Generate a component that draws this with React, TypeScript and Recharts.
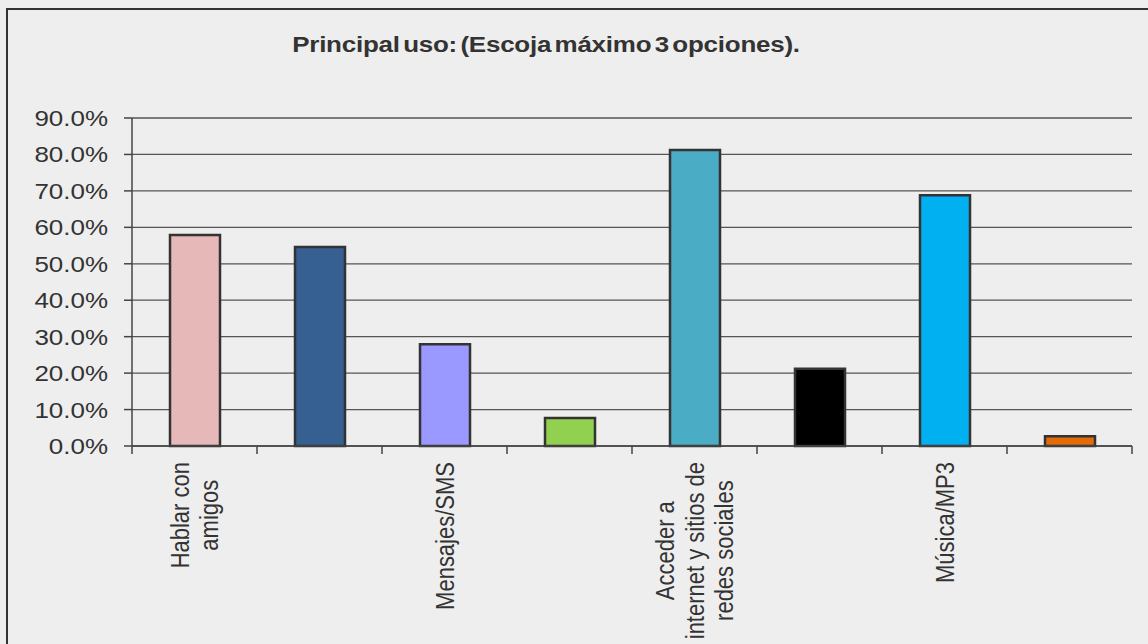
import { Bar, BarChart, CartesianGrid, Cell, XAxis, YAxis } from "recharts";

const categories = [
  "Hablar con amigos",
  "Llamadas",
  "Mensajes/SMS",
  "Juegos",
  "Acceder a internet y sitios de redes sociales",
  "Fotos/Video",
  "Música/MP3",
  "Otros",
];
// wrapped lines for the drawn labels (odd categories are skipped on the axis)
const labelLines = [
  ["Hablar con", "amigos"],
  [],
  ["Mensajes/SMS"],
  [],
  ["Acceder a", "internet y sitios de", "redes sociales"],
  [],
  ["Música/MP3"],
  [],
];
const shares = [0.579, 0.546, 0.279, 0.077, 0.812, 0.212, 0.688, 0.027];
const barColors = [
  "#E6B8B7",
  "#366092",
  "#9999FF",
  "#92D050",
  "#4BACC6",
  "#000000",
  "#00B0F0",
  "#E36C09",
];
const yTicks = [0, 0.1, 0.2, 0.3, 0.4, 0.5, 0.6, 0.7, 0.8, 0.9];

const data = categories.map((name, i) => ({ name, value: shares[i], color: barColors[i] }));

const WIDTH = 1148;
const HEIGHT = 644;
const MARGIN = { top: 118, right: 16, left: 0, bottom: 0 };
const Y_AXIS_WIDTH = 132;
const X_AXIS_HEIGHT = 198;
const PLOT_WIDTH = WIDTH - MARGIN.left - MARGIN.right - Y_AXIS_WIDTH;
const BAND = PLOT_WIDTH / categories.length;

const FONT = "'Liberation Sans', Arial, sans-serif";
const FONT_SIZE = 22;
// glyphs are drawn a bit wider than tall
const STRETCH = 1.18;
const LINE_GAP = 30;

let measureCtx: CanvasRenderingContext2D | null = null;
function textWidth(s: string) {
  if (!measureCtx) {
    measureCtx = document.createElement("canvas").getContext("2d");
  }
  if (!measureCtx) return s.length * FONT_SIZE * 0.5;
  measureCtx.font = `${FONT_SIZE}px ${FONT}`;
  return measureCtx.measureText(s).width;
}

function CategoryTick(props: any) {
  const { x, y, index } = props;
  const lines = labelLines[index] || [];
  const longest = Math.max(0, ...lines.map(textWidth));
  const offset = 8 + longest / 2;
  const left = x - BAND / 2;
  const right = x + BAND / 2;
  return (
    <g>
      <line x1={left} y1={y - 8} x2={left} y2={y} stroke="#444" strokeWidth={1.5} />
      {index === categories.length - 1 && (
        <line x1={right} y1={y - 8} x2={right} y2={y} stroke="#444" strokeWidth={1.5} />
      )}
      <g transform={`translate(${x},${y}) rotate(-90) scale(1,${STRETCH})`}>
        {lines.map((line, i) => (
          <text
            key={line}
            x={-offset}
            y={((i - (lines.length - 1) / 2) * LINE_GAP + 9) / STRETCH}
            textAnchor="middle"
            fontFamily={FONT}
            fontSize={FONT_SIZE}
            fill="#333"
          >
            {line}
          </text>
        ))}
      </g>
    </g>
  );
}

function PercentTick(props: any) {
  const { x, y, payload } = props;
  return (
    <g transform={`translate(${x},${y}) scale(${STRETCH},1)`}>
      <text x={0} y={0} dy={8} textAnchor="end" fontFamily={FONT} fontSize={FONT_SIZE} fill="#333">
        {`${(payload.value * 100).toFixed(1)}%`}
      </text>
    </g>
  );
}

export default function App() {
  return (
    <div style={{ position: "relative", width: WIDTH, height: HEIGHT, background: "#eeeeee", overflow: "hidden" }}>
      <style>{"body{margin:0}"}</style>
      <div
        style={{
          position: "absolute",
          left: 6,
          top: 8,
          right: -10,
          bottom: -10,
          borderLeft: "2px solid #333",
          borderTop: "2px solid #333",
        }}
      />
      <div
        style={{
          position: "absolute",
          left: 546,
          top: 32,
          transform: `translateX(-50%) scaleX(${STRETCH})`,
          fontFamily: FONT,
          fontWeight: "bold",
          fontSize: FONT_SIZE,
          letterSpacing: -0.2,
          wordSpacing: -3,
          color: "#333",
          whiteSpace: "nowrap",
        }}
      >
        Principal uso: (Escoja máximo 3 opciones).
      </div>
      <div style={{ position: "absolute", left: 0, top: 0 }}>
        <BarChart width={WIDTH} height={HEIGHT} data={data} margin={MARGIN} barSize={50}>
          <CartesianGrid vertical={false} stroke="#555" strokeWidth={1.3} />
          <XAxis
            dataKey="name"
            height={X_AXIS_HEIGHT}
            interval={0}
            tickLine={false}
            axisLine={{ stroke: "#444", strokeWidth: 1.5 }}
            tick={<CategoryTick />}
          />
          <YAxis
            width={Y_AXIS_WIDTH}
            domain={[0, 0.9]}
            ticks={yTicks}
            interval={0}
            tickSize={8}
            tickMargin={16}
            axisLine={{ stroke: "#444", strokeWidth: 1.5 }}
            tickLine={{ stroke: "#444", strokeWidth: 1.5 }}
            tick={<PercentTick />}
          />
          <Bar dataKey="value" isAnimationActive={false} stroke="#333" strokeWidth={2.5}>
            {data.map((d) => (
              <Cell key={d.name} fill={d.color} />
            ))}
          </Bar>
        </BarChart>
      </div>
    </div>
  );
}
